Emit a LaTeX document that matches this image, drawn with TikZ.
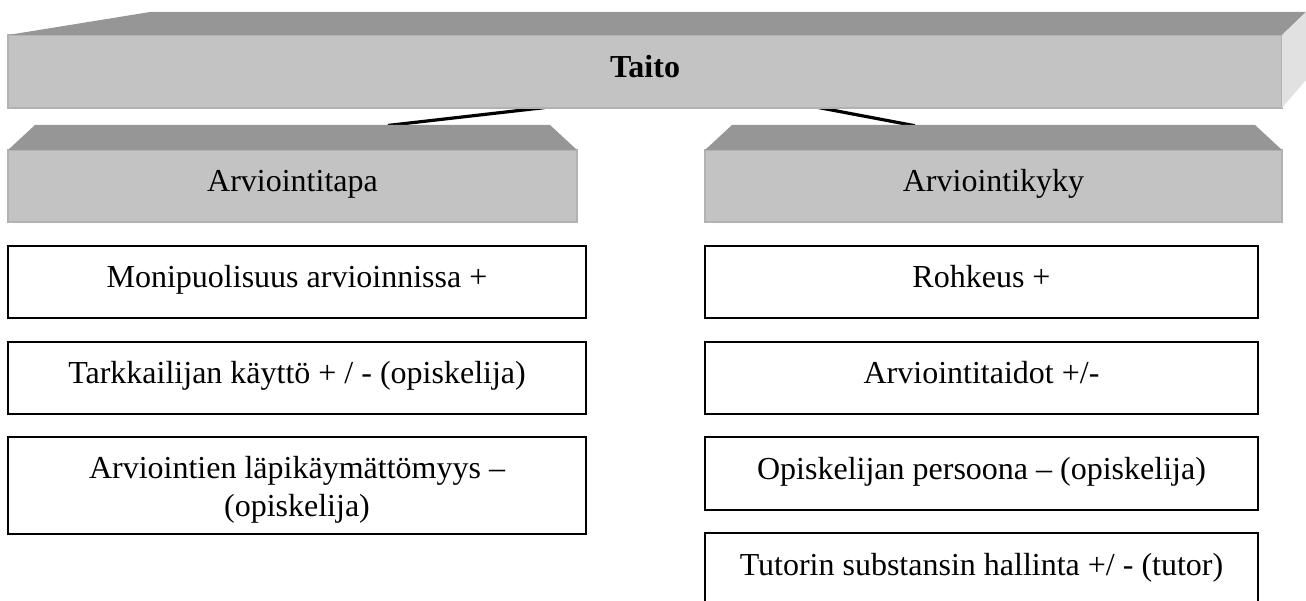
\documentclass[tikz,border=0pt]{standalone}
\usepackage{fontspec}
\setmainfont{Liberation Serif}
\usetikzlibrary{calc,backgrounds}
\definecolor{barfront}{HTML}{C3C3C3}
\definecolor{baredge}{HTML}{B2B2B2}
\definecolor{bartop}{HTML}{969696}
\definecolor{barside}{HTML}{E1E1E1}
\begin{document}
\begin{tikzpicture}[x=1pt,y=-1pt,
  txt/.style={font=\fontsize{32}{38}\selectfont, text height=24pt, text depth=12pt},
  bar/.style={txt, fill=barfront, draw=baredge, line width=1.5pt, inner sep=0pt,
    outer sep=0pt},
  item/.style={txt, draw=black, line width=2.5pt, fill=white, inner sep=0pt,
    outer sep=0pt, minimum height=72pt},
  leftitem/.style={item, minimum width=578pt},
  rightitem/.style={item, minimum width=553pt},
  link/.style={black, line width=3.2pt, shorten <=-4pt, shorten >=-4pt}]
\useasboundingbox (0,0) rectangle (1306,601);

% three-dimensional header bars
\node[bar, minimum width=1274pt, minimum height=73pt] (taito) at (645,71.5) {\textbf{Taito}};
\fill[bartop] (taito.north west) -- (150,12) -- (1306,12) -- (taito.north east) -- cycle;
\fill[barside] (taito.north east) -- (1306,12) -- (1306,80) -- (taito.south east) -- cycle;

\node[bar, minimum width=569pt, minimum height=72pt] (tapa) at (292.5,186) {Arviointitapa};
\fill[bartop] (tapa.north west) -- ++(27,-25) -- ($(tapa.north east)+(-27,-25)$) -- (tapa.north east) -- cycle;

\node[bar, minimum width=577pt, minimum height=72pt] (kyky) at (993.5,186) {Arviointikyky};
\fill[bartop] (kyky.north west) -- ++(27,-25) -- ($(kyky.north east)+(-27,-25)$) -- (kyky.north east) -- cycle;

% connectors behind the bars
\begin{scope}[on background layer]
  \draw[link] ($(taito.south)+(-104,0)$) -- ($(tapa.north)+(99.5,-25)$);
  \draw[link] ($(taito.south)+(176,0)$) -- ($(kyky.north)+(-82.5,-25)$);
\end{scope}

% left column
\node[leftitem] (l1) at (297,282) {Monipuolisuus arvioinnissa +};
\node[leftitem] (l2) at (297,378) {Tarkkailijan käyttö + / - (opiskelija)};
\node[leftitem, minimum height=97pt] (l3) at (297,485.5) {};
\node[font=\fontsize{32}{38}\selectfont, align=center, inner sep=0pt] (l3text) at (297,490)
  {Arviointien läpikäymättömyys –\\(opiskelija)};

% right column
\node[rightitem] (r1) at (981.5,282) {Rohkeus +};
\node[rightitem] (r2) at (981.5,378) {Arviointitaidot +/-};
\node[rightitem, minimum height=73pt] (r3) at (981.5,473.5) {Opiskelijan persoona – (opiskelija)};
\node[rightitem, minimum height=144pt] (r4) at (981.5,605) {};
\node[txt, inner sep=0pt] (r4text) at (981.5,569) {Tutorin substansin hallinta +/ - (tutor)};
\end{tikzpicture}
\end{document}
